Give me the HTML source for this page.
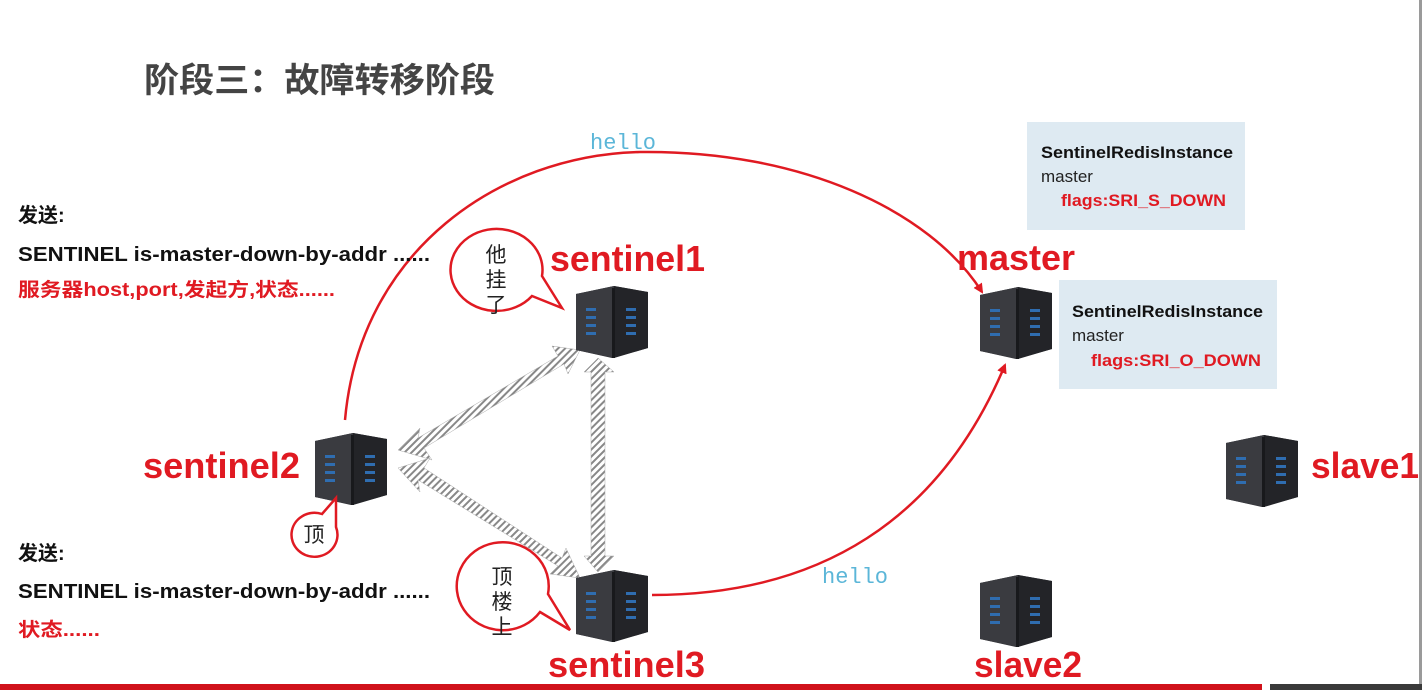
<!DOCTYPE html>
<html><head><meta charset="utf-8"><style>
html,body{margin:0;padding:0;background:#fff;}
svg{display:block}
text{font-family:"Liberation Sans","Noto Sans CJK SC",sans-serif;}
</style></head><body>
<svg width="1422" height="690" viewBox="0 0 1422 690" xmlns="http://www.w3.org/2000/svg">
<defs>
<g id="srv">
 <polygon points="0,8 38,0 72,6 72,62 36,72 0,64" fill="#2e2f33"/>
 <polygon points="0,8 38,0 38,72 0,64" fill="#3a3b40"/>
 <polygon points="38,0 72,6 72,62 38,72" fill="#232428"/>
 <rect x="36" y="2" width="3" height="70" fill="#18191c"/>
 <g fill="#2f6db0">
  <rect x="10" y="22" width="10" height="3"/><rect x="10" y="30" width="10" height="3"/><rect x="10" y="38" width="10" height="3"/><rect x="10" y="46" width="10" height="3"/>
  <rect x="50" y="22" width="10" height="3"/><rect x="50" y="30" width="10" height="3"/><rect x="50" y="38" width="10" height="3"/><rect x="50" y="46" width="10" height="3"/>
 </g>
</g>
<pattern id="hatch" width="5" height="5" patternUnits="userSpaceOnUse" patternTransform="rotate(45)">
 <rect width="5" height="5" fill="#fff"/><rect width="2" height="5" fill="#888"/>
</pattern>
<marker id="ar" markerWidth="10" markerHeight="10" refX="8" refY="5" orient="auto" markerUnits="userSpaceOnUse">
 <path d="M0,0 L10,5 L0,10 z" fill="#e01a22"/>
</marker>
</defs>

<text x="144" y="92" font-size="34" font-weight="bold" fill="#444" textLength="351" lengthAdjust="spacingAndGlyphs">阶段三：故障转移阶段</text>

<text x="590" y="149" font-size="22" fill="#5bb6d8" style="font-family:'Liberation Mono',monospace">hello</text>
<text x="822" y="583" font-size="22" fill="#5bb6d8" style="font-family:'Liberation Mono',monospace">hello</text>

<!-- arcs -->
<path d="M345,420 C360,250 500,155 640,152 C800,150 930,210 982,292" fill="none" stroke="#e01a22" stroke-width="2.5" marker-end="url(#ar)"/>
<path d="M652,595 C820,595 940,520 1005,365" fill="none" stroke="#e01a22" stroke-width="2.5" marker-end="url(#ar)"/>

<!-- hatched arrows -->
<g fill="url(#hatch)" stroke="#aaa" stroke-width="0.5">
 <polygon points="398,450 420,428 418,438 558,356 552,346 580,350 568,374 564,364 424,448 432,460"/>
 <polygon points="398,468 430,458 424,468 562,558 566,548 580,578 550,574 558,566 418,480 420,492"/>
 <polygon points="584,372 598,358 614,372 605,372 605,556 614,556 598,572 584,556 591,556 591,372"/>
</g>

<!-- servers -->
<use href="#srv" x="576" y="286"/>
<use href="#srv" x="315" y="433"/>
<use href="#srv" x="576" y="570"/>
<use href="#srv" x="980" y="287"/>
<use href="#srv" x="1226" y="435"/>
<use href="#srv" x="980" y="575"/>

<!-- labels -->
<g fill="#e01a22" font-weight="bold" font-size="36" lengthAdjust="spacingAndGlyphs">
 <text x="550" y="271" textLength="155" lengthAdjust="spacingAndGlyphs">sentinel1</text>
 <text x="143" y="478" textLength="157" lengthAdjust="spacingAndGlyphs">sentinel2</text>
 <text x="548" y="677" textLength="157" lengthAdjust="spacingAndGlyphs">sentinel3</text>
 <text x="957" y="270" textLength="118" lengthAdjust="spacingAndGlyphs">master</text>
 <text x="1311" y="478" textLength="108" lengthAdjust="spacingAndGlyphs">slave1</text>
 <text x="974" y="677" textLength="108" lengthAdjust="spacingAndGlyphs">slave2</text>
</g>

<!-- left text -->
<g font-weight="bold" font-size="20">
 <text x="18" y="222" fill="#111">发送:</text>
 <text x="18" y="261" fill="#111" textLength="412" lengthAdjust="spacingAndGlyphs">SENTINEL is-master-down-by-addr ......</text>
 <text x="18" y="296" fill="#e01a22" font-size="19" textLength="317" lengthAdjust="spacingAndGlyphs">服务器host,port,发起方,状态......</text>
 <text x="18" y="560" fill="#111">发送:</text>
 <text x="18" y="598" fill="#111" textLength="412" lengthAdjust="spacingAndGlyphs">SENTINEL is-master-down-by-addr ......</text>
 <text x="18" y="636" fill="#e01a22" font-size="19" textLength="82" lengthAdjust="spacingAndGlyphs">状态......</text>
</g>

<!-- speech bubbles -->
<g fill="#fff" stroke="#e01a22" stroke-width="2.5">
 <path d="M532,296 L562,308 L542,276 A46,41 0 1 0 532,296 Z"/>
 <path d="M322,514 L336,498 L336,527 A23,22 0 1 1 322,514 Z"/>
 <path d="M540,612 L570,630 L548,594 A46,44 0 1 0 540,612 Z"/>
</g>
<g font-size="21" fill="#222" text-anchor="middle">
 <text x="496" y="262">他</text><text x="496" y="287">挂</text><text x="496" y="312">了</text>
 <text x="314" y="542">顶</text>
 <text x="502" y="584">顶</text><text x="502" y="609">楼</text><text x="502" y="634">上</text>
</g>

<!-- info boxes -->
<rect x="1027" y="122" width="218" height="108" fill="#deeaf2"/>
<text x="1041" y="158" font-size="17" font-weight="bold" fill="#111" textLength="192" lengthAdjust="spacingAndGlyphs">SentinelRedisInstance</text>
<text x="1041" y="182" font-size="17" fill="#222">master</text>
<text x="1061" y="206" font-size="17" font-weight="bold" fill="#e01a22" textLength="165" lengthAdjust="spacingAndGlyphs">flags:SRI_S_DOWN</text>

<rect x="1059" y="280" width="218" height="109" fill="#deeaf2"/>
<text x="1072" y="317" font-size="17" font-weight="bold" fill="#111" textLength="191" lengthAdjust="spacingAndGlyphs">SentinelRedisInstance</text>
<text x="1072" y="341" font-size="17" fill="#222">master</text>
<text x="1091" y="366" font-size="17" font-weight="bold" fill="#e01a22" textLength="170" lengthAdjust="spacingAndGlyphs">flags:SRI_O_DOWN</text>

<!-- edges -->
<rect x="1419" y="0" width="3" height="690" fill="#9a9a9a"/>
<rect x="0" y="684" width="1262" height="6" fill="#d0121b"/>
<rect x="1270" y="684" width="152" height="6" fill="#3a3a3a"/>
</svg>
</body></html>
